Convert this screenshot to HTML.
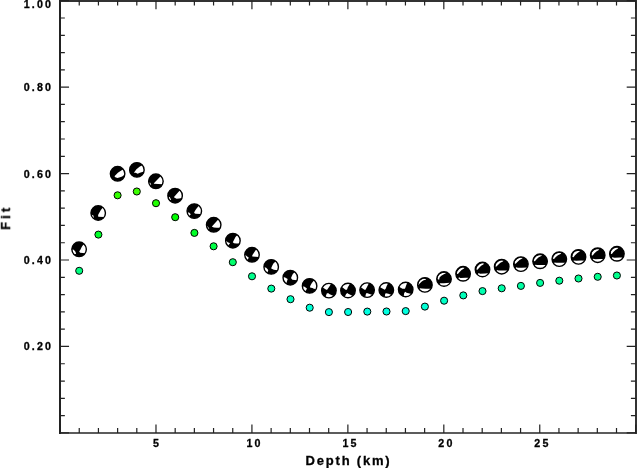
<!DOCTYPE html><html><head><meta charset="utf-8"><style>html,body{margin:0;padding:0;background:#fff;}svg{display:block}</style></head><body>
<svg width="637" height="468" viewBox="0 0 637 468">
<rect width="637" height="468" fill="#fff"/>
<rect x="59" y="432" width="578" height="2" fill="#5c5c5c"/>
<rect x="59" y="0" width="578" height="2" fill="#333"/>
<rect x="635" y="0" width="2" height="434" fill="#333"/>
<rect x="59" y="0" width="2" height="434" fill="#222"/>
<path d="M60.05 432.90v-8.5M60.05 0.70v8.5M79.24 432.90v-4.8M79.24 0.70v4.8M98.43 432.90v-4.8M98.43 0.70v4.8M117.62 432.90v-4.8M117.62 0.70v4.8M136.80 432.90v-4.8M136.80 0.70v4.8M155.99 432.90v-8.5M155.99 0.70v8.5M175.18 432.90v-4.8M175.18 0.70v4.8M194.37 432.90v-4.8M194.37 0.70v4.8M213.56 432.90v-4.8M213.56 0.70v4.8M232.75 432.90v-4.8M232.75 0.70v4.8M251.93 432.90v-8.5M251.93 0.70v8.5M271.12 432.90v-4.8M271.12 0.70v4.8M290.31 432.90v-4.8M290.31 0.70v4.8M309.50 432.90v-4.8M309.50 0.70v4.8M328.69 432.90v-4.8M328.69 0.70v4.8M347.88 432.90v-8.5M347.88 0.70v8.5M367.06 432.90v-4.8M367.06 0.70v4.8M386.25 432.90v-4.8M386.25 0.70v4.8M405.44 432.90v-4.8M405.44 0.70v4.8M424.63 432.90v-4.8M424.63 0.70v4.8M443.82 432.90v-8.5M443.82 0.70v8.5M463.01 432.90v-4.8M463.01 0.70v4.8M482.19 432.90v-4.8M482.19 0.70v4.8M501.38 432.90v-4.8M501.38 0.70v4.8M520.57 432.90v-4.8M520.57 0.70v4.8M539.76 432.90v-8.5M539.76 0.70v8.5M558.95 432.90v-4.8M558.95 0.70v4.8M578.14 432.90v-4.8M578.14 0.70v4.8M597.32 432.90v-4.8M597.32 0.70v4.8M616.51 432.90v-4.8M616.51 0.70v4.8M635.70 432.90v-8.5M635.70 0.70v8.5M60.05 432.90h9M635.70 432.90h-9M60.05 415.61h4.8M635.70 415.61h-4.8M60.05 398.32h4.8M635.70 398.32h-4.8M60.05 381.04h4.8M635.70 381.04h-4.8M60.05 363.75h4.8M635.70 363.75h-4.8M60.05 346.46h9M635.70 346.46h-9M60.05 329.17h4.8M635.70 329.17h-4.8M60.05 311.88h4.8M635.70 311.88h-4.8M60.05 294.60h4.8M635.70 294.60h-4.8M60.05 277.31h4.8M635.70 277.31h-4.8M60.05 260.02h9M635.70 260.02h-9M60.05 242.73h4.8M635.70 242.73h-4.8M60.05 225.44h4.8M635.70 225.44h-4.8M60.05 208.16h4.8M635.70 208.16h-4.8M60.05 190.87h4.8M635.70 190.87h-4.8M60.05 173.58h9M635.70 173.58h-9M60.05 156.29h4.8M635.70 156.29h-4.8M60.05 139.00h4.8M635.70 139.00h-4.8M60.05 121.72h4.8M635.70 121.72h-4.8M60.05 104.43h4.8M635.70 104.43h-4.8M60.05 87.14h9M635.70 87.14h-9M60.05 69.85h4.8M635.70 69.85h-4.8M60.05 52.56h4.8M635.70 52.56h-4.8M60.05 35.28h4.8M635.70 35.28h-4.8M60.05 17.99h4.8M635.70 17.99h-4.8M60.05 0.70h9M635.70 0.70h-9" stroke="#222" stroke-width="1.2" fill="none"/>
<g opacity="0.999">
<text x="53" y="350.4" font-family="'Liberation Sans', Arial, Helvetica, sans-serif" font-weight="bold" stroke="#000" stroke-width="0.3" font-size="10.7" letter-spacing="2.1" text-anchor="end">0.20</text>
<text x="53" y="263.9" font-family="'Liberation Sans', Arial, Helvetica, sans-serif" font-weight="bold" stroke="#000" stroke-width="0.3" font-size="10.7" letter-spacing="2.1" text-anchor="end">0.40</text>
<text x="53" y="177.5" font-family="'Liberation Sans', Arial, Helvetica, sans-serif" font-weight="bold" stroke="#000" stroke-width="0.3" font-size="10.7" letter-spacing="2.1" text-anchor="end">0.60</text>
<text x="53" y="91.0" font-family="'Liberation Sans', Arial, Helvetica, sans-serif" font-weight="bold" stroke="#000" stroke-width="0.3" font-size="10.7" letter-spacing="2.1" text-anchor="end">0.80</text>
<text x="53" y="7.9" font-family="'Liberation Sans', Arial, Helvetica, sans-serif" font-weight="bold" stroke="#000" stroke-width="0.3" font-size="10.7" letter-spacing="2.1" text-anchor="end">1.00</text>
<text x="157.0" y="446.9" font-family="'Liberation Sans', Arial, Helvetica, sans-serif" font-weight="bold" stroke="#000" stroke-width="0.3" font-size="10.7" letter-spacing="2.1" text-anchor="middle">5</text>
<text x="254.5" y="446.9" font-family="'Liberation Sans', Arial, Helvetica, sans-serif" font-weight="bold" stroke="#000" stroke-width="0.3" font-size="10.7" letter-spacing="2.1" text-anchor="middle">10</text>
<text x="350.5" y="446.9" font-family="'Liberation Sans', Arial, Helvetica, sans-serif" font-weight="bold" stroke="#000" stroke-width="0.3" font-size="10.7" letter-spacing="2.1" text-anchor="middle">15</text>
<text x="446.4" y="446.9" font-family="'Liberation Sans', Arial, Helvetica, sans-serif" font-weight="bold" stroke="#000" stroke-width="0.3" font-size="10.7" letter-spacing="2.1" text-anchor="middle">20</text>
<text x="542.4" y="446.9" font-family="'Liberation Sans', Arial, Helvetica, sans-serif" font-weight="bold" stroke="#000" stroke-width="0.3" font-size="10.7" letter-spacing="2.1" text-anchor="middle">25</text>
<text x="348.5" y="464.8" font-family="'Liberation Sans', Arial, Helvetica, sans-serif" font-weight="bold" stroke="#000" stroke-width="0.3" font-size="13" letter-spacing="1.8" text-anchor="middle">Depth (km)</text>
<text transform="translate(10.1 217.4) rotate(-90)" font-family="'Liberation Sans', Arial, Helvetica, sans-serif" font-weight="bold" stroke="#000" stroke-width="0.3" font-size="13" letter-spacing="3.1" text-anchor="middle">Fit</text>
</g>
<circle cx="79.2" cy="270.8" r="3.55" fill="#00ff80" stroke="#000" stroke-width="1"/>
<circle cx="98.4" cy="234.6" r="3.55" fill="#00ff2a" stroke="#000" stroke-width="1"/>
<circle cx="117.6" cy="195.3" r="3.55" fill="#33ff00" stroke="#000" stroke-width="1"/>
<circle cx="136.8" cy="191.5" r="3.55" fill="#3cff00" stroke="#000" stroke-width="1"/>
<circle cx="156.0" cy="203.2" r="3.55" fill="#20ff00" stroke="#000" stroke-width="1"/>
<circle cx="175.2" cy="217.2" r="3.55" fill="#00ff01" stroke="#000" stroke-width="1"/>
<circle cx="194.4" cy="232.9" r="3.55" fill="#00ff26" stroke="#000" stroke-width="1"/>
<circle cx="213.6" cy="246.3" r="3.55" fill="#00ff46" stroke="#000" stroke-width="1"/>
<circle cx="232.8" cy="262.2" r="3.55" fill="#00ff6b" stroke="#000" stroke-width="1"/>
<circle cx="252.0" cy="276.3" r="3.55" fill="#00ff8c" stroke="#000" stroke-width="1"/>
<circle cx="271.3" cy="288.6" r="3.55" fill="#00ffa9" stroke="#000" stroke-width="1"/>
<circle cx="290.5" cy="299.2" r="3.55" fill="#00ffc2" stroke="#000" stroke-width="1"/>
<circle cx="309.7" cy="307.7" r="3.55" fill="#00ffd6" stroke="#000" stroke-width="1"/>
<circle cx="328.9" cy="312.1" r="3.55" fill="#00ffe1" stroke="#000" stroke-width="1"/>
<circle cx="348.1" cy="312.0" r="3.55" fill="#00ffe1" stroke="#000" stroke-width="1"/>
<circle cx="367.3" cy="311.6" r="3.55" fill="#00ffe0" stroke="#000" stroke-width="1"/>
<circle cx="386.5" cy="311.5" r="3.55" fill="#00ffdf" stroke="#000" stroke-width="1"/>
<circle cx="405.7" cy="311.1" r="3.55" fill="#00ffde" stroke="#000" stroke-width="1"/>
<circle cx="424.9" cy="306.6" r="3.55" fill="#00ffd4" stroke="#000" stroke-width="1"/>
<circle cx="444.1" cy="300.7" r="3.55" fill="#00ffc6" stroke="#000" stroke-width="1"/>
<circle cx="463.3" cy="295.4" r="3.55" fill="#00ffb9" stroke="#000" stroke-width="1"/>
<circle cx="482.5" cy="291.1" r="3.55" fill="#00ffaf" stroke="#000" stroke-width="1"/>
<circle cx="501.7" cy="288.3" r="3.55" fill="#00ffa9" stroke="#000" stroke-width="1"/>
<circle cx="520.9" cy="285.9" r="3.55" fill="#00ffa3" stroke="#000" stroke-width="1"/>
<circle cx="540.1" cy="282.9" r="3.55" fill="#00ff9c" stroke="#000" stroke-width="1"/>
<circle cx="559.3" cy="280.7" r="3.55" fill="#00ff97" stroke="#000" stroke-width="1"/>
<circle cx="578.5" cy="278.5" r="3.55" fill="#00ff92" stroke="#000" stroke-width="1"/>
<circle cx="597.7" cy="276.8" r="3.55" fill="#00ff8e" stroke="#000" stroke-width="1"/>
<circle cx="616.9" cy="275.5" r="3.55" fill="#00ff8b" stroke="#000" stroke-width="1"/>
<g transform="translate(79.1 249.3)"><circle r="7.3"/><path d="M3.19 -3.42 2.33 -1.71 1.27 0.43 0.20 1.93 0.20 2.35 1.05 3.42 6.20 3.86 6.26 3.75 6.44 3.44 6.60 3.12 6.74 2.79 6.87 2.46 6.99 2.12 7.08 1.77 7.16 1.42 7.22 1.07 7.26 0.72 7.29 0.36 7.30 0.00 7.29 -0.36 7.26 -0.72 7.22 -1.07 7.16 -1.42 7.08 -1.77 6.99 -2.12 6.87 -2.46 6.74 -2.79 6.60 -3.12 6.44 -3.44 6.26 -3.75 6.07 -4.06 5.86 -4.35 5.64 -4.63 5.41 -4.90 5.16 -5.16 5.02 -5.30ZM-3.01 4.49 -3.65 2.57 -5.36 0.43 -7.29 0.29 -7.29 0.36 -7.26 0.72 -7.22 1.07 -7.16 1.42 -7.08 1.77 -6.99 2.12 -6.87 2.46 -6.74 2.79 -6.60 3.12 -6.44 3.44 -6.26 3.75 -6.07 4.06 -5.86 4.35 -5.64 4.63 -5.41 4.90 -5.16 5.16 -5.07 5.25Z" fill="#fff"/><circle r="7.25" fill="none" stroke="#000" stroke-width="1.4"/></g>
<g transform="translate(98.2 213.0)"><circle r="7.3"/><path d="M2.66 -3.00 1.38 -0.64 0.09 1.49 -0.12 2.77 0.09 3.63 6.05 4.08 6.07 4.06 6.26 3.75 6.44 3.44 6.60 3.12 6.74 2.79 6.87 2.46 6.99 2.12 7.08 1.77 7.16 1.42 7.22 1.07 7.26 0.72 7.29 0.36 7.30 0.00 7.29 -0.36 7.26 -0.72 7.22 -1.07 7.16 -1.42 7.08 -1.77 6.99 -2.12 6.87 -2.46 6.74 -2.79 6.60 -3.12 6.44 -3.44 6.26 -3.75 6.07 -4.06 5.86 -4.35 5.64 -4.63 5.41 -4.90 5.16 -5.16 4.90 -5.41 4.74 -5.55ZM-4.61 2.77 -7.19 1.25 -7.16 1.42 -7.08 1.77 -6.99 2.12 -6.87 2.46 -6.74 2.79 -6.60 3.12 -6.44 3.44 -6.26 3.75 -6.07 4.06 -5.86 4.35 -5.64 4.63 -5.41 4.90 -5.16 5.16 -4.90 5.41 -4.63 5.64 -4.54 5.72Z" fill="#fff"/><circle r="7.25" fill="none" stroke="#000" stroke-width="1.4"/></g>
<g transform="translate(117.6 173.8)"><circle r="7.3"/><path d="M3.27 -2.95 0.28 -1.03 -3.14 2.39 -2.29 3.46 -0.15 4.10 2.41 3.46 4.55 2.60 7.26 0.77 7.26 0.72 7.29 0.36 7.30 0.00 7.29 -0.36 7.26 -0.72 7.22 -1.07 7.16 -1.42 7.08 -1.77 6.99 -2.12 6.87 -2.46 6.74 -2.79 6.60 -3.12 6.44 -3.44 6.26 -3.75 6.07 -4.06 5.86 -4.35 5.78 -4.46Z" fill="#fff"/><circle r="7.25" fill="none" stroke="#000" stroke-width="1.4"/></g>
<g transform="translate(136.9 169.9)"><circle r="7.3"/><path d="M2.95 -3.45 -0.47 -0.68 -3.03 2.96 -1.32 2.96 0.82 3.81 2.95 2.96 7.12 1.61 7.16 1.42 7.22 1.07 7.26 0.72 7.29 0.36 7.30 0.00 7.29 -0.36 7.26 -0.72 7.22 -1.07 7.16 -1.42 7.08 -1.77 6.99 -2.12 6.87 -2.46 6.74 -2.79 6.60 -3.12 6.44 -3.44 6.26 -3.75 6.07 -4.06 5.86 -4.35 5.64 -4.63 5.56 -4.73Z" fill="#fff"/><circle r="7.25" fill="none" stroke="#000" stroke-width="1.4"/></g>
<g transform="translate(155.9 181.3)"><circle r="7.3"/><path d="M-2.02 2.06 -2.02 2.36 6.68 2.94 6.74 2.79 6.87 2.46 6.99 2.12 7.08 1.77 7.16 1.42 7.22 1.07 7.26 0.72 7.29 0.36 7.30 0.00 7.29 -0.36 7.26 -0.72 7.22 -1.07 7.16 -1.42 7.08 -1.77 6.99 -2.12 6.87 -2.46 6.74 -2.79 6.60 -3.12 6.44 -3.44 6.26 -3.75 6.07 -4.06 5.86 -4.35 5.64 -4.63 5.41 -4.90 5.16 -5.16 4.93 -5.39ZM-4.63 3.26 -6.00 0.91 -7.02 1.98 -6.99 2.12 -6.87 2.46 -6.74 2.79 -6.60 3.12 -6.44 3.44 -6.35 3.60Z" fill="#fff"/><circle r="7.25" fill="none" stroke="#000" stroke-width="1.4"/></g>
<g transform="translate(175.1 195.7)"><circle r="7.3"/><path d="M-1.10 1.42 -0.88 1.85 1.47 3.13 4.03 2.92 6.92 2.32 6.99 2.12 7.08 1.77 7.16 1.42 7.22 1.07 7.26 0.72 7.29 0.36 7.30 0.00 7.29 -0.36 7.26 -0.72 7.22 -1.07 7.16 -1.42 7.08 -1.77 6.99 -2.12 6.87 -2.46 6.74 -2.79 6.60 -3.12 6.44 -3.44 6.26 -3.75 6.07 -4.06 5.86 -4.35 5.64 -4.63 5.41 -4.90 5.16 -5.16 4.90 -5.41 4.85 -5.45ZM-3.96 4.03 -5.50 1.12 -6.86 2.50 -6.74 2.79 -6.60 3.12 -6.44 3.44 -6.26 3.75 -6.07 4.06 -5.86 4.35 -5.68 4.58Z" fill="#fff"/><circle r="7.25" fill="none" stroke="#000" stroke-width="1.4"/></g>
<g transform="translate(194.3 211.1)"><circle r="7.3"/><path d="M2.47 -2.80 1.19 -1.09 -0.09 1.05 -0.09 1.90 1.19 2.54 6.73 2.82 6.74 2.79 6.87 2.46 6.99 2.12 7.08 1.77 7.16 1.42 7.22 1.07 7.26 0.72 7.29 0.36 7.30 0.00 7.29 -0.36 7.26 -0.72 7.22 -1.07 7.16 -1.42 7.08 -1.77 6.99 -2.12 6.87 -2.46 6.74 -2.79 6.60 -3.12 6.44 -3.44 6.26 -3.75 6.07 -4.06 5.86 -4.35 5.64 -4.63 5.41 -4.90 5.16 -5.16 4.90 -5.41 4.72 -5.56ZM-3.51 3.18 -5.22 1.47 -7.18 1.28 -7.16 1.42 -7.08 1.77 -6.99 2.12 -6.87 2.46 -6.74 2.79 -6.60 3.12 -6.44 3.44 -6.26 3.75 -6.07 4.06 -5.86 4.35 -5.64 4.63 -5.41 4.90 -5.16 5.16 -5.12 5.20Z" fill="#fff"/><circle r="7.25" fill="none" stroke="#000" stroke-width="1.4"/></g>
<g transform="translate(213.7 224.8)"><circle r="7.3"/><path d="M-1.79 1.75 -1.57 1.96 0.14 2.82 3.13 3.03 6.66 2.98 6.74 2.79 6.87 2.46 6.99 2.12 7.08 1.77 7.16 1.42 7.22 1.07 7.26 0.72 7.29 0.36 7.30 0.00 7.29 -0.36 7.26 -0.72 7.22 -1.07 7.16 -1.42 7.08 -1.77 6.99 -2.12 6.87 -2.46 6.74 -2.79 6.60 -3.12 6.44 -3.44 6.26 -3.75 6.07 -4.06 5.86 -4.35 5.64 -4.63 5.41 -4.90 5.16 -5.16 4.90 -5.41 4.74 -5.55ZM-4.39 3.97 -6.19 1.24 -6.89 2.42 -6.87 2.46 -6.74 2.79 -6.60 3.12 -6.44 3.44 -6.26 3.75 -6.07 4.06 -5.86 4.35 -5.84 4.38Z" fill="#fff"/><circle r="7.25" fill="none" stroke="#000" stroke-width="1.4"/></g>
<g transform="translate(232.9 240.7)"><circle r="7.3"/><path d="M2.60 -3.82 1.57 -1.72 0.68 0.07 -0.09 1.57 1.10 2.46 3.50 2.89 6.76 2.76 6.87 2.46 6.99 2.12 7.08 1.77 7.16 1.42 7.22 1.07 7.26 0.72 7.29 0.36 7.30 0.00 7.29 -0.36 7.26 -0.72 7.22 -1.07 7.16 -1.42 7.08 -1.77 6.99 -2.12 6.87 -2.46 6.74 -2.79 6.60 -3.12 6.44 -3.44 6.26 -3.75 6.07 -4.06 5.86 -4.35 5.64 -4.63 5.41 -4.90 5.16 -5.16 4.90 -5.41 4.63 -5.64 4.45 -5.78ZM-3.98 3.70 -3.13 3.06 -3.13 2.42 -5.26 1.57 -5.91 0.71 -7.29 -0.20 -7.30 0.00 -7.29 0.36 -7.26 0.72 -7.22 1.07 -7.16 1.42 -7.08 1.77 -6.99 2.12 -6.87 2.46 -6.74 2.79 -6.60 3.12 -6.44 3.44 -6.26 3.75 -6.07 4.06 -5.86 4.35 -5.64 4.63 -5.41 4.90 -5.16 5.16 -4.99 5.32Z" fill="#fff"/><circle r="7.25" fill="none" stroke="#000" stroke-width="1.4"/></g>
<g transform="translate(252.0 254.8)"><circle r="7.3"/><path d="M0.27 0.49 0.27 1.77 6.95 2.21 6.99 2.12 7.08 1.77 7.16 1.42 7.22 1.07 7.26 0.72 7.29 0.36 7.30 0.00 7.29 -0.36 7.26 -0.72 7.22 -1.07 7.16 -1.42 7.08 -1.77 6.99 -2.12 6.87 -2.46 6.74 -2.79 6.60 -3.12 6.44 -3.44 6.26 -3.75 6.07 -4.06 5.86 -4.35 5.64 -4.63 5.41 -4.90 5.16 -5.16 4.90 -5.41 4.63 -5.64 4.44 -5.79ZM-3.14 3.06 -7.29 -0.41 -7.29 -0.36 -7.30 0.00 -7.29 0.36 -7.26 0.72 -7.22 1.07 -7.16 1.42 -7.08 1.77 -6.99 2.12 -6.87 2.46 -6.74 2.79 -6.60 3.12 -6.44 3.44 -6.26 3.75 -6.07 4.06 -5.86 4.35 -5.64 4.63 -5.41 4.90 -5.16 5.16 -4.90 5.41 -4.86 5.45Z" fill="#fff"/><circle r="7.25" fill="none" stroke="#000" stroke-width="1.4"/></g>
<g transform="translate(271.2 266.9)"><circle r="7.3"/><path d="M2.20 -3.48 1.13 -1.34 0.06 1.22 0.06 1.65 2.63 2.93 6.52 3.28 6.60 3.12 6.74 2.79 6.87 2.46 6.99 2.12 7.08 1.77 7.16 1.42 7.22 1.07 7.26 0.72 7.29 0.36 7.30 0.00 7.29 -0.36 7.26 -0.72 7.22 -1.07 7.16 -1.42 7.08 -1.77 6.99 -2.12 6.87 -2.46 6.74 -2.79 6.60 -3.12 6.44 -3.44 6.26 -3.75 6.07 -4.06 5.86 -4.35 5.64 -4.63 5.41 -4.90 5.16 -5.16 4.90 -5.41 4.63 -5.64 4.60 -5.67ZM-2.93 3.49 -3.52 2.29 -5.02 0.79 -7.30 0.12 -7.29 0.36 -7.26 0.72 -7.22 1.07 -7.16 1.42 -7.08 1.77 -6.99 2.12 -6.87 2.46 -6.74 2.79 -6.60 3.12 -6.44 3.44 -6.26 3.75 -6.07 4.06 -5.86 4.35 -5.64 4.63 -5.41 4.90 -5.16 5.16 -4.90 5.41 -4.63 5.64 -4.35 5.86 -4.06 6.07 -4.01 6.10Z" fill="#fff"/><circle r="7.25" fill="none" stroke="#000" stroke-width="1.4"/></g>
<g transform="translate(290.3 277.7)"><circle r="7.3"/><path d="M2.53 -3.73 1.67 -2.02 0.82 0.11 0.82 0.54 2.10 2.04 6.88 2.44 6.99 2.12 7.08 1.77 7.16 1.42 7.22 1.07 7.26 0.72 7.29 0.36 7.30 0.00 7.29 -0.36 7.26 -0.72 7.22 -1.07 7.16 -1.42 7.08 -1.77 6.99 -2.12 6.87 -2.46 6.74 -2.79 6.60 -3.12 6.44 -3.44 6.26 -3.75 6.07 -4.06 5.86 -4.35 5.64 -4.63 5.41 -4.90 5.16 -5.16 4.90 -5.41 4.63 -5.64 4.51 -5.74ZM-2.60 1.40 -5.17 -0.31 -7.25 -0.80 -7.26 -0.72 -7.29 -0.36 -7.30 0.00 -7.29 0.36 -7.26 0.72 -7.22 1.07 -7.16 1.42 -7.08 1.77 -6.99 2.12 -6.87 2.46 -6.74 2.79 -6.60 3.12 -6.44 3.44 -6.26 3.75 -6.07 4.06 -5.86 4.35 -5.64 4.63 -5.41 4.90 -5.16 5.16 -4.90 5.41 -4.63 5.64 -4.35 5.86 -4.09 6.05Z" fill="#fff"/><circle r="7.25" fill="none" stroke="#000" stroke-width="1.4"/></g>
<g transform="translate(309.6 285.9)"><circle r="7.3"/><path d="M2.25 -2.85 0.97 -0.71 0.33 1.00 0.54 1.64 3.54 2.28 3.96 2.92 6.58 3.15 6.60 3.12 6.74 2.79 6.87 2.46 6.99 2.12 7.08 1.77 7.16 1.42 7.22 1.07 7.26 0.72 7.29 0.36 7.30 0.00 7.29 -0.36 7.26 -0.72 7.22 -1.07 7.16 -1.42 7.08 -1.77 6.99 -2.12 6.87 -2.46 6.74 -2.79 6.60 -3.12 6.44 -3.44 6.26 -3.75 6.07 -4.06 5.86 -4.35 5.64 -4.63 5.41 -4.90 5.16 -5.16 4.90 -5.41 4.63 -5.64 4.54 -5.71ZM-2.66 2.71 -5.01 0.79 -7.29 0.24 -7.29 0.36 -7.26 0.72 -7.22 1.07 -7.16 1.42 -7.08 1.77 -6.99 2.12 -6.87 2.46 -6.74 2.79 -6.60 3.12 -6.44 3.44 -6.26 3.75 -6.07 4.06 -5.86 4.35 -5.64 4.63 -5.41 4.90 -5.16 5.16 -4.90 5.41 -4.63 5.64 -4.35 5.86 -4.25 5.93Z" fill="#fff"/><circle r="7.25" fill="none" stroke="#000" stroke-width="1.4"/></g>
<g transform="translate(328.9 290.6)"><circle r="7.3"/><path d="M-2.63 -0.74 -1.77 -0.74 0.36 -3.73 2.22 -6.95 2.12 -6.99 1.77 -7.08 1.42 -7.16 1.07 -7.22 0.72 -7.26 0.36 -7.29 0.00 -7.30 -0.36 -7.29 -0.72 -7.26 -1.07 -7.22 -1.42 -7.16 -1.77 -7.08 -2.12 -6.99 -2.46 -6.87 -2.79 -6.74 -3.12 -6.60 -3.44 -6.44 -3.75 -6.26 -4.06 -6.07 -4.35 -5.86 -4.63 -5.64 -4.90 -5.41 -5.16 -5.16 -5.41 -4.90 -5.64 -4.63 -5.86 -4.35 -6.07 -4.06 -6.26 -3.75 -6.44 -3.44 -6.51 -3.29ZM0.79 3.54 -0.49 2.68 -1.99 2.68 -3.49 6.41 -3.44 6.44 -3.12 6.60 -2.79 6.74 -2.46 6.87 -2.12 6.99 -1.77 7.08 -1.42 7.16 -1.07 7.22 -0.72 7.26 -0.36 7.29 0.00 7.30 0.36 7.29 0.72 7.26 1.07 7.22 1.42 7.16 1.77 7.08 2.12 6.99 2.46 6.87 2.79 6.74 3.12 6.60 3.44 6.44 3.75 6.26 4.06 6.07 4.35 5.86 4.63 5.64 4.83 5.47Z" fill="#fff"/><circle r="7.25" fill="none" stroke="#000" stroke-width="1.4"/></g>
<g transform="translate(348.0 290.5)"><circle r="7.3"/><path d="M-2.52 -0.71 -1.02 -0.71 -0.17 -3.28 2.12 -6.99 1.77 -7.08 1.42 -7.16 1.07 -7.22 0.72 -7.26 0.36 -7.29 0.00 -7.30 -0.36 -7.29 -0.72 -7.26 -1.07 -7.22 -1.42 -7.16 -1.77 -7.08 -2.12 -6.99 -2.46 -6.87 -2.79 -6.74 -3.12 -6.60 -3.44 -6.44 -3.75 -6.26 -4.06 -6.07 -4.35 -5.86 -4.63 -5.64 -4.90 -5.41 -5.16 -5.16 -5.41 -4.90 -5.64 -4.63 -5.86 -4.35 -6.07 -4.06 -6.26 -3.75 -6.32 -3.65ZM0.26 3.13 -0.59 2.49 -1.88 3.56 -3.26 6.53 -3.12 6.60 -2.79 6.74 -2.46 6.87 -2.12 6.99 -1.77 7.08 -1.42 7.16 -1.07 7.22 -0.72 7.26 -0.36 7.29 0.00 7.30 0.36 7.29 0.72 7.26 1.07 7.22 1.42 7.16 1.77 7.08 2.12 6.99 2.46 6.87 2.79 6.74 3.12 6.60 3.44 6.44 3.75 6.26 4.06 6.07 4.35 5.86 4.63 5.64 4.76 5.53Z" fill="#fff"/><circle r="7.25" fill="none" stroke="#000" stroke-width="1.4"/></g>
<g transform="translate(367.1 290.1)"><circle r="7.3"/><path d="M-2.62 -0.26 -1.55 -0.26 0.16 -3.68 1.87 -7.05 1.77 -7.08 1.42 -7.16 1.07 -7.22 0.72 -7.26 0.36 -7.29 0.00 -7.30 -0.36 -7.29 -0.72 -7.26 -1.07 -7.22 -1.42 -7.16 -1.77 -7.08 -2.12 -6.99 -2.46 -6.87 -2.79 -6.74 -3.12 -6.60 -3.44 -6.44 -3.75 -6.26 -4.06 -6.07 -4.35 -5.86 -4.63 -5.64 -4.90 -5.41 -5.16 -5.16 -5.41 -4.90 -5.64 -4.63 -5.86 -4.35 -6.07 -4.06 -6.26 -3.75 -6.44 -3.44 -6.60 -3.12 -6.60 -3.12ZM1.87 3.59 -0.27 2.95 -1.12 3.59 -1.96 7.03 -1.77 7.08 -1.42 7.16 -1.07 7.22 -0.72 7.26 -0.36 7.29 0.00 7.30 0.36 7.29 0.72 7.26 1.07 7.22 1.42 7.16 1.77 7.08 2.12 6.99 2.46 6.87 2.79 6.74 3.12 6.60 3.44 6.44 3.75 6.26 4.06 6.07 4.35 5.86 4.63 5.64 4.90 5.41 5.16 5.16 5.41 4.90 5.43 4.88Z" fill="#fff"/><circle r="7.25" fill="none" stroke="#000" stroke-width="1.4"/></g>
<g transform="translate(386.3 290.0)"><circle r="7.3"/><path d="M-1.55 -0.21 -0.48 -1.49 0.38 -4.05 1.96 -7.03 1.77 -7.08 1.42 -7.16 1.07 -7.22 0.72 -7.26 0.36 -7.29 0.00 -7.30 -0.36 -7.29 -0.72 -7.26 -1.07 -7.22 -1.42 -7.16 -1.77 -7.08 -2.12 -6.99 -2.46 -6.87 -2.79 -6.74 -3.12 -6.60 -3.44 -6.44 -3.75 -6.26 -4.06 -6.07 -4.35 -5.86 -4.63 -5.64 -4.90 -5.41 -5.16 -5.16 -5.41 -4.90 -5.64 -4.63 -5.86 -4.35 -6.07 -4.06 -6.26 -3.75 -6.44 -3.44 -6.60 -3.12 -6.66 -2.99ZM2.09 3.64 -0.26 3.21 -1.12 3.64 -1.51 7.14 -1.42 7.16 -1.07 7.22 -0.72 7.26 -0.36 7.29 0.00 7.30 0.36 7.29 0.72 7.26 1.07 7.22 1.42 7.16 1.77 7.08 2.12 6.99 2.46 6.87 2.79 6.74 3.12 6.60 3.44 6.44 3.75 6.26 4.06 6.07 4.35 5.86 4.63 5.64 4.90 5.41 5.16 5.16 5.41 4.91Z" fill="#fff"/><circle r="7.25" fill="none" stroke="#000" stroke-width="1.4"/></g>
<g transform="translate(405.7 289.5)"><circle r="7.3"/><path d="M-3.21 -0.70 -0.86 -0.70 -0.43 -1.55 0.42 -4.11 1.65 -7.11 1.42 -7.16 1.07 -7.22 0.72 -7.26 0.36 -7.29 0.00 -7.30 -0.36 -7.29 -0.72 -7.26 -1.07 -7.22 -1.42 -7.16 -1.77 -7.08 -2.12 -6.99 -2.46 -6.87 -2.79 -6.74 -3.12 -6.60 -3.44 -6.44 -3.75 -6.26 -4.06 -6.07 -4.35 -5.86 -4.63 -5.64 -4.90 -5.41 -5.16 -5.16 -5.41 -4.90 -5.64 -4.63 -5.86 -4.35 -6.07 -4.06 -6.26 -3.75 -6.44 -3.44 -6.60 -3.12 -6.72 -2.86ZM0.85 3.15 -0.43 2.30 -1.50 3.58 -2.00 7.02 -1.77 7.08 -1.42 7.16 -1.07 7.22 -0.72 7.26 -0.36 7.29 0.00 7.30 0.36 7.29 0.72 7.26 1.07 7.22 1.42 7.16 1.77 7.08 2.12 6.99 2.46 6.87 2.79 6.74 3.12 6.60 3.44 6.44 3.75 6.26 4.06 6.07 4.35 5.86 4.63 5.64 4.90 5.41 5.16 5.16 5.41 4.90 5.64 4.63 5.79 4.44Z" fill="#fff"/><circle r="7.25" fill="none" stroke="#000" stroke-width="1.4"/></g>
<g transform="translate(424.9 284.9)"><circle r="7.3"/><path d="M-6.70 0.16 -6.14 -0.47 -4.69 -1.98 -3.15 -3.52 -1.23 -4.68 0.91 -5.23 0.96 -5.91 -1.29 -6.12 -3.31 -5.49 -5.10 -4.09 -6.30 -2.08 -6.91 -0.24ZM0.78 3.79 -3.07 3.57 -4.99 3.36 -5.57 4.72 -5.41 4.90 -5.16 5.16 -4.90 5.41 -4.63 5.64 -4.35 5.86 -4.06 6.07 -3.75 6.26 -3.44 6.44 -3.12 6.60 -2.79 6.74 -2.46 6.87 -2.12 6.99 -1.77 7.08 -1.42 7.16 -1.07 7.22 -0.72 7.26 -0.36 7.29 0.00 7.30 0.36 7.29 0.72 7.26 1.07 7.22 1.42 7.16 1.77 7.08 2.12 6.99 2.46 6.87 2.79 6.74 3.12 6.60 3.44 6.44 3.75 6.26 4.06 6.07 4.35 5.86 4.63 5.64 4.90 5.41 5.16 5.16 5.41 4.90 5.64 4.63 5.86 4.35 6.07 4.06 6.22 3.81Z" fill="#fff"/><circle r="7.25" fill="none" stroke="#000" stroke-width="1.4"/></g>
<g transform="translate(444.0 279.0)"><circle r="7.3"/><path d="M-4.88 0.72 -4.45 -1.42 -2.74 -3.13 -0.18 -4.84 1.84 -5.76 1.61 -6.20 -1.53 -5.98 -4.23 -4.63 -6.01 -2.38 -6.67 0.08ZM2.81 3.92 -0.18 4.35 -4.02 4.14 -4.65 5.63 -4.63 5.64 -4.35 5.86 -4.06 6.07 -3.75 6.26 -3.44 6.44 -3.12 6.60 -2.79 6.74 -2.46 6.87 -2.12 6.99 -1.77 7.08 -1.42 7.16 -1.07 7.22 -0.72 7.26 -0.36 7.29 0.00 7.30 0.36 7.29 0.72 7.26 1.07 7.22 1.42 7.16 1.77 7.08 2.12 6.99 2.46 6.87 2.79 6.74 3.12 6.60 3.44 6.44 3.75 6.26 4.06 6.07 4.35 5.86 4.63 5.64 4.90 5.41 5.16 5.16 5.41 4.90 5.64 4.63 5.86 4.35 6.07 4.06 6.26 3.76Z" fill="#fff"/><circle r="7.25" fill="none" stroke="#000" stroke-width="1.4"/></g>
<g transform="translate(463.1 273.8)"><circle r="7.3"/><path d="M-5.20 0.27 -3.70 -1.65 -1.56 -3.79 0.57 -5.07 1.50 -6.00 -0.74 -6.22 -3.44 -5.11 -5.68 -2.63 -6.35 0.06ZM2.71 3.90 -2.63 4.12 -4.13 3.48 -5.09 5.23 -4.90 5.41 -4.63 5.64 -4.35 5.86 -4.06 6.07 -3.75 6.26 -3.44 6.44 -3.12 6.60 -2.79 6.74 -2.46 6.87 -2.12 6.99 -1.77 7.08 -1.42 7.16 -1.07 7.22 -0.72 7.26 -0.36 7.29 0.00 7.30 0.36 7.29 0.72 7.26 1.07 7.22 1.42 7.16 1.77 7.08 2.12 6.99 2.46 6.87 2.79 6.74 3.12 6.60 3.44 6.44 3.75 6.26 4.06 6.07 4.35 5.86 4.63 5.64 4.90 5.41 5.16 5.16 5.41 4.90 5.64 4.63 5.86 4.35 6.07 4.06 6.26 3.75 6.34 3.61Z" fill="#fff"/><circle r="7.25" fill="none" stroke="#000" stroke-width="1.4"/></g>
<g transform="translate(482.5 269.5)"><circle r="7.3"/><path d="M-5.00 0.30 -3.50 -1.62 -1.37 -3.76 0.77 -5.04 1.71 -5.97 -0.54 -6.20 -3.24 -5.08 -5.48 -2.61 -6.15 0.09ZM2.91 3.93 -2.44 4.15 -3.93 3.50 -4.94 5.37 -4.90 5.41 -4.63 5.64 -4.35 5.86 -4.06 6.07 -3.75 6.26 -3.44 6.44 -3.12 6.60 -2.79 6.74 -2.46 6.87 -2.12 6.99 -1.77 7.08 -1.42 7.16 -1.07 7.22 -0.72 7.26 -0.36 7.29 0.00 7.30 0.36 7.29 0.72 7.26 1.07 7.22 1.42 7.16 1.77 7.08 2.12 6.99 2.46 6.87 2.79 6.74 3.12 6.60 3.44 6.44 3.75 6.26 4.06 6.07 4.35 5.86 4.63 5.64 4.90 5.41 5.16 5.16 5.41 4.90 5.64 4.63 5.86 4.35 6.07 4.06 6.26 3.75 6.37 3.56Z" fill="#fff"/><circle r="7.25" fill="none" stroke="#000" stroke-width="1.4"/></g>
<g transform="translate(501.7 266.7)"><circle r="7.3"/><path d="M-5.21 -0.09 -3.50 -2.01 -1.37 -3.93 1.20 -5.21 1.93 -6.14 -0.99 -6.15 -3.68 -5.03 -5.70 -2.78 -6.37 -0.31ZM0.77 3.76 -3.08 3.76 -4.79 3.33 -5.56 4.72 -5.41 4.90 -5.16 5.16 -4.90 5.41 -4.63 5.64 -4.35 5.86 -4.06 6.07 -3.75 6.26 -3.44 6.44 -3.12 6.60 -2.79 6.74 -2.46 6.87 -2.12 6.99 -1.77 7.08 -1.42 7.16 -1.07 7.22 -0.72 7.26 -0.36 7.29 0.00 7.30 0.36 7.29 0.72 7.26 1.07 7.22 1.42 7.16 1.77 7.08 2.12 6.99 2.46 6.87 2.79 6.74 3.12 6.60 3.44 6.44 3.75 6.26 4.06 6.07 4.35 5.86 4.63 5.64 4.90 5.41 5.16 5.16 5.41 4.90 5.64 4.63 5.86 4.35 6.07 4.06 6.26 3.75 6.30 3.68Z" fill="#fff"/><circle r="7.25" fill="none" stroke="#000" stroke-width="1.4"/></g>
<g transform="translate(520.9 264.1)"><circle r="7.3"/><path d="M-5.22 -0.28 -3.51 -2.20 -1.37 -4.12 1.26 -5.70 1.92 -6.33 -0.99 -6.34 -3.68 -5.22 -5.70 -2.98 -6.37 -0.52ZM0.77 3.57 -3.08 3.57 -4.79 3.14 -5.67 4.60 -5.64 4.63 -5.41 4.90 -5.16 5.16 -4.90 5.41 -4.63 5.64 -4.35 5.86 -4.06 6.07 -3.75 6.26 -3.44 6.44 -3.12 6.60 -2.79 6.74 -2.46 6.87 -2.12 6.99 -1.77 7.08 -1.42 7.16 -1.07 7.22 -0.72 7.26 -0.36 7.29 0.00 7.30 0.36 7.29 0.72 7.26 1.07 7.22 1.42 7.16 1.77 7.08 2.12 6.99 2.46 6.87 2.79 6.74 3.12 6.60 3.44 6.44 3.75 6.26 4.06 6.07 4.35 5.86 4.63 5.64 4.90 5.41 5.16 5.16 5.41 4.90 5.64 4.63 5.86 4.35 6.07 4.06 6.26 3.75 6.41 3.49Z" fill="#fff"/><circle r="7.25" fill="none" stroke="#000" stroke-width="1.4"/></g>
<g transform="translate(540.1 261.3)"><circle r="7.3"/><path d="M-5.21 -0.09 -3.50 -2.01 -1.37 -3.93 1.20 -5.21 1.93 -6.14 -0.99 -6.15 -3.68 -5.03 -5.70 -2.78 -6.37 -0.31ZM0.77 3.76 -3.08 3.76 -4.79 3.33 -5.56 4.72 -5.41 4.90 -5.16 5.16 -4.90 5.41 -4.63 5.64 -4.35 5.86 -4.06 6.07 -3.75 6.26 -3.44 6.44 -3.12 6.60 -2.79 6.74 -2.46 6.87 -2.12 6.99 -1.77 7.08 -1.42 7.16 -1.07 7.22 -0.72 7.26 -0.36 7.29 0.00 7.30 0.36 7.29 0.72 7.26 1.07 7.22 1.42 7.16 1.77 7.08 2.12 6.99 2.46 6.87 2.79 6.74 3.12 6.60 3.44 6.44 3.75 6.26 4.06 6.07 4.35 5.86 4.63 5.64 4.90 5.41 5.16 5.16 5.41 4.90 5.64 4.63 5.86 4.35 6.07 4.06 6.26 3.75 6.30 3.68Z" fill="#fff"/><circle r="7.25" fill="none" stroke="#000" stroke-width="1.4"/></g>
<g transform="translate(559.3 259.1)"><circle r="7.3"/><path d="M-5.21 -0.09 -3.50 -2.01 -1.37 -3.93 1.20 -5.21 1.93 -6.14 -0.99 -6.15 -3.68 -5.03 -5.70 -2.78 -6.37 -0.31ZM0.77 3.76 -3.08 3.76 -4.79 3.33 -5.56 4.72 -5.41 4.90 -5.16 5.16 -4.90 5.41 -4.63 5.64 -4.35 5.86 -4.06 6.07 -3.75 6.26 -3.44 6.44 -3.12 6.60 -2.79 6.74 -2.46 6.87 -2.12 6.99 -1.77 7.08 -1.42 7.16 -1.07 7.22 -0.72 7.26 -0.36 7.29 0.00 7.30 0.36 7.29 0.72 7.26 1.07 7.22 1.42 7.16 1.77 7.08 2.12 6.99 2.46 6.87 2.79 6.74 3.12 6.60 3.44 6.44 3.75 6.26 4.06 6.07 4.35 5.86 4.63 5.64 4.90 5.41 5.16 5.16 5.41 4.90 5.64 4.63 5.86 4.35 6.07 4.06 6.26 3.75 6.30 3.68Z" fill="#fff"/><circle r="7.25" fill="none" stroke="#000" stroke-width="1.4"/></g>
<g transform="translate(578.5 256.9)"><circle r="7.3"/><path d="M-5.00 0.30 -3.50 -1.62 -1.37 -3.76 0.77 -5.04 1.48 -5.97 -0.99 -5.98 -3.68 -5.07 -5.70 -2.60 -6.15 0.09ZM2.91 3.72 -2.22 3.93 -4.79 3.50 -5.47 4.83 -5.41 4.90 -5.16 5.16 -4.90 5.41 -4.63 5.64 -4.35 5.86 -4.06 6.07 -3.75 6.26 -3.44 6.44 -3.12 6.60 -2.79 6.74 -2.46 6.87 -2.12 6.99 -1.77 7.08 -1.42 7.16 -1.07 7.22 -0.72 7.26 -0.36 7.29 0.00 7.30 0.36 7.29 0.72 7.26 1.07 7.22 1.42 7.16 1.77 7.08 2.12 6.99 2.46 6.87 2.79 6.74 3.12 6.60 3.44 6.44 3.75 6.26 4.06 6.07 4.35 5.86 4.63 5.64 4.90 5.41 5.16 5.16 5.41 4.90 5.64 4.63 5.86 4.35 6.07 4.06 6.26 3.75 6.28 3.73Z" fill="#fff"/><circle r="7.25" fill="none" stroke="#000" stroke-width="1.4"/></g>
<g transform="translate(597.7 255.2)"><circle r="7.3"/><path d="M-5.00 0.30 -3.50 -1.62 -1.37 -3.76 0.77 -5.04 1.48 -5.97 -0.99 -5.98 -3.68 -5.07 -5.70 -2.60 -6.15 0.09ZM2.91 3.72 -2.22 3.93 -4.79 3.50 -5.47 4.83 -5.41 4.90 -5.16 5.16 -4.90 5.41 -4.63 5.64 -4.35 5.86 -4.06 6.07 -3.75 6.26 -3.44 6.44 -3.12 6.60 -2.79 6.74 -2.46 6.87 -2.12 6.99 -1.77 7.08 -1.42 7.16 -1.07 7.22 -0.72 7.26 -0.36 7.29 0.00 7.30 0.36 7.29 0.72 7.26 1.07 7.22 1.42 7.16 1.77 7.08 2.12 6.99 2.46 6.87 2.79 6.74 3.12 6.60 3.44 6.44 3.75 6.26 4.06 6.07 4.35 5.86 4.63 5.64 4.90 5.41 5.16 5.16 5.41 4.90 5.64 4.63 5.86 4.35 6.07 4.06 6.26 3.75 6.28 3.73Z" fill="#fff"/><circle r="7.25" fill="none" stroke="#000" stroke-width="1.4"/></g>
<g transform="translate(616.9 253.8)"><circle r="7.3"/><path d="M-5.02 0.22 -3.52 -1.70 -1.38 -3.84 0.75 -5.12 1.47 -6.05 -1.00 -6.06 -3.69 -5.15 -5.71 -2.68 -6.17 0.01ZM2.89 3.64 -2.24 3.85 -4.80 3.43 -5.52 4.77 -5.41 4.90 -5.16 5.16 -4.90 5.41 -4.63 5.64 -4.35 5.86 -4.06 6.07 -3.75 6.26 -3.44 6.44 -3.12 6.60 -2.79 6.74 -2.46 6.87 -2.12 6.99 -1.77 7.08 -1.42 7.16 -1.07 7.22 -0.72 7.26 -0.36 7.29 0.00 7.30 0.36 7.29 0.72 7.26 1.07 7.22 1.42 7.16 1.77 7.08 2.12 6.99 2.46 6.87 2.79 6.74 3.12 6.60 3.44 6.44 3.75 6.26 4.06 6.07 4.35 5.86 4.63 5.64 4.90 5.41 5.16 5.16 5.41 4.90 5.64 4.63 5.86 4.35 6.07 4.06 6.26 3.75 6.31 3.66Z" fill="#fff"/><circle r="7.25" fill="none" stroke="#000" stroke-width="1.4"/></g>
</svg></body></html>
